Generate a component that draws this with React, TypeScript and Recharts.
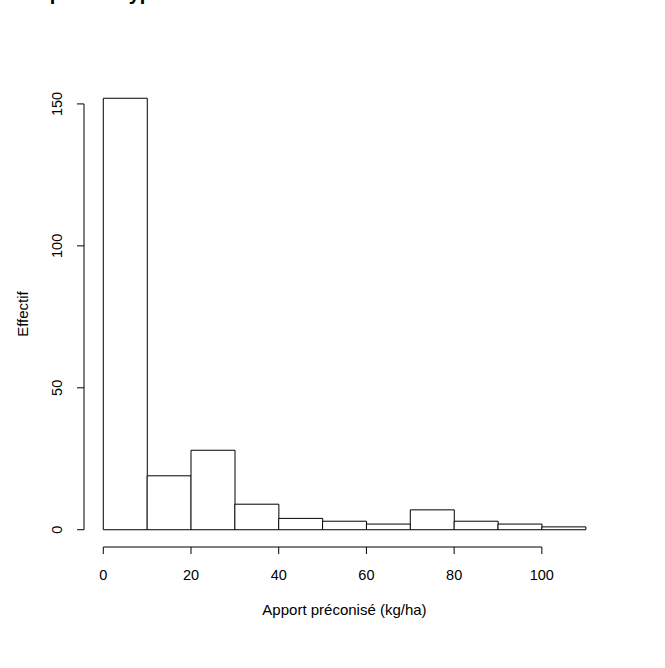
import React from 'react';
import { ComposedChart, Bar, XAxis, YAxis, ReferenceLine, Label } from 'recharts';

const binStarts = [0, 10, 20, 30, 40, 50, 60, 70, 80, 90, 100];
const binWidth = 10;
const counts = [152, 19, 28, 9, 4, 3, 2, 7, 3, 2, 1];
const xTicks = [0, 20, 40, 60, 80, 100];
const yTicks = [0, 50, 100, 150];
const xDomain = [-4.4, 114.4];
const yDomain = [-6.08, 158.08];
const titleText = 'Sols pour le type A';
const xLabel = 'Apport préconisé (kg/ha)';
const yLabel = 'Effectif';

const data = binStarts.map((s, i) => ({ mid: s + binWidth / 2, count: counts[i] }));

const FONT = '"Liberation Sans", Arial, sans-serif';

const YTick = (props: any) => {
  const { x, y, payload } = props;
  const bx = x - 13;
  return (
    <text x={bx} y={y} transform={`rotate(-90 ${bx} ${y})`} textAnchor="middle" fontSize={14.5} fontFamily={FONT} fill="#000">
      {payload.value}
    </text>
  );
};

const XTick = (props: any) => {
  const { x, y, payload } = props;
  return (
    <text x={x} y={y + 18} textAnchor="middle" fontSize={14.5} fontFamily={FONT} fill="#000">
      {payload.value}
    </text>
  );
};

export default function App() {
  return (
    <div style={{ position: 'absolute', left: 0, top: 0, width: 665, height: 668, background: '#fff' }}>
      <svg width={665} height={20} style={{ position: 'absolute', left: 0, top: 0 }}>
        <text x={2} y={0} fontSize={20} fontWeight="bold" fontFamily={FONT} fill="#000">{titleText}</text>
      </svg>
      <ComposedChart
        width={665}
        height={668}
        data={data}
        margin={{ top: 81, right: 60, bottom: 91, left: 24 }}
        barCategoryGap={0}
        barGap={0}
      >
        <XAxis
          dataKey="mid"
          type="number"
          domain={xDomain}
          ticks={xTicks}
          allowDataOverflow
          axisLine={false}
          tickLine={{ stroke: '#000' }}
          tickSize={7}
          tickMargin={8}
          height={30}
          tick={<XTick />}
          interval={0}
        >
          <Label
            content={(p: any) => {
              const vb = p.viewBox;
              return (
                <text x={vb.x + vb.width / 2} y={vb.y + 68} textAnchor="middle" fontSize={15} fontFamily={FONT} fill="#000">
                  {xLabel}
                </text>
              );
            }}
          />
        </XAxis>
        <YAxis
          type="number"
          domain={yDomain}
          ticks={yTicks}
          allowDataOverflow
          axisLine={false}
          tickLine={{ stroke: '#000' }}
          tickSize={7}
          tickMargin={2}
          width={60}
          tick={<YTick />}
          interval={0}
        >
          <Label
            content={(p: any) => {
              const vb = p.viewBox;
              const cx = 28;
              const cy = vb.y + vb.height / 2;
              return (
                <text x={cx} y={cy} transform={`rotate(-90 ${cx} ${cy})`} textAnchor="middle" fontSize={15} fontFamily={FONT} fill="#000">
                  {yLabel}
                </text>
              );
            }}
          />
        </YAxis>
        <Bar dataKey="count" fill="#fff" stroke="#000" strokeWidth={1} isAnimationActive={false} />
        <ReferenceLine
          segment={[{ x: xDomain[0], y: yTicks[0] }, { x: xDomain[0], y: yTicks[yTicks.length - 1] }]}
          stroke="#000"
          ifOverflow="visible"
        />
        <ReferenceLine
          segment={[{ x: xTicks[0], y: yDomain[0] }, { x: xTicks[xTicks.length - 1], y: yDomain[0] }]}
          stroke="#000"
          ifOverflow="visible"
        />
      </ComposedChart>
    </div>
  );
}
